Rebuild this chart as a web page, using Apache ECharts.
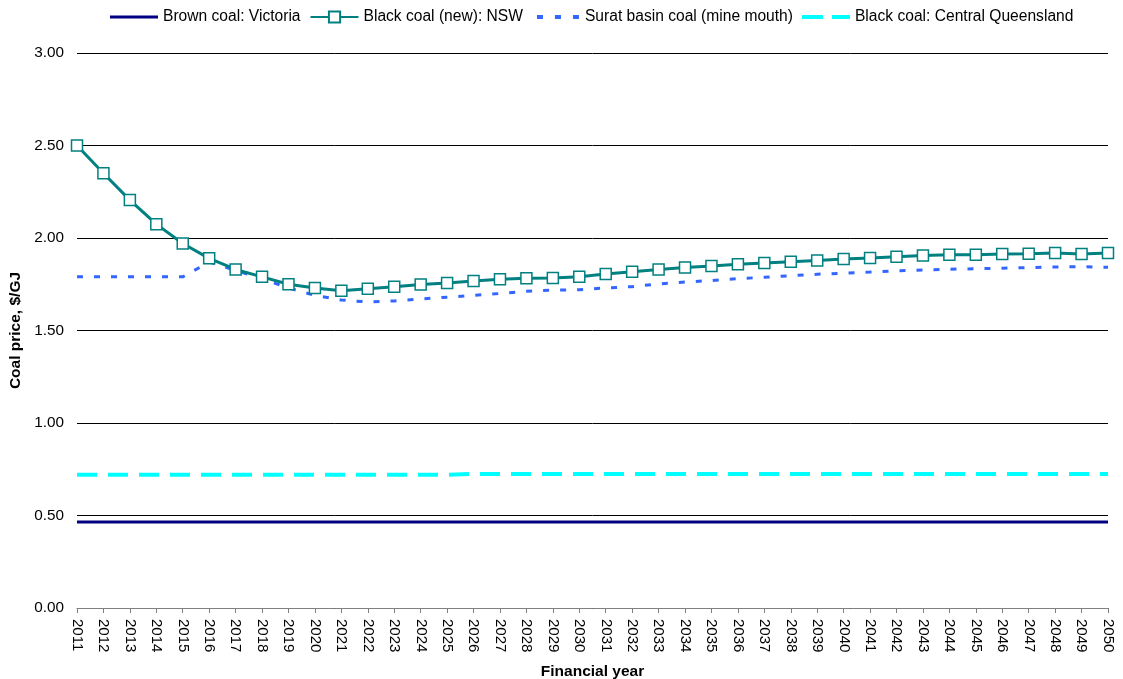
<!DOCTYPE html>
<html>
<head>
<meta charset="utf-8">
<script src="https://cdn.jsdelivr.net/npm/echarts@6/dist/echarts.min.js"></script>
<style>html,body{margin:0;padding:0;background:#fff;}#c{width:1123px;height:679px;}</style>
</head>
<body>
<div id="c"></div>
<script>
var years = [];
for (var y = 2011; y <= 2050; y++) years.push(String(y));

var brownVic = [0.465,0.465,0.465,0.465,0.465,0.465,0.465,0.465,0.465,0.465,
  0.465,0.465,0.465,0.465,0.465,0.465,0.465,0.465,0.465,0.465,
  0.465,0.465,0.465,0.465,0.465,0.465,0.465,0.465,0.465,0.465,
  0.465,0.465,0.465,0.465,0.465,0.465,0.465,0.465,0.465,0.465];

var blackNSW = [2.50,2.35,2.205,2.075,1.97,1.89,1.83,1.79,1.75,1.73,
  1.715,1.726,1.737,1.748,1.757,1.768,1.777,1.782,1.784,1.79,
  1.805,1.818,1.83,1.84,1.849,1.858,1.865,1.872,1.879,1.886,
  1.892,1.899,1.906,1.91,1.91,1.913,1.915,1.919,1.914,1.919];

var suratBasin = [1.79,1.79,1.79,1.79,1.79,1.87,1.825,1.78,1.73,1.69,
  1.665,1.654,1.66,1.67,1.68,1.69,1.70,1.712,1.718,1.72,
  1.73,1.737,1.752,1.762,1.77,1.78,1.788,1.796,1.804,1.81,
  1.816,1.823,1.827,1.831,1.834,1.837,1.84,1.843,1.845,1.842];

var centralQld = [0.72,0.72,0.72,0.72,0.72,0.72,0.72,0.72,0.72,0.72,
  0.72,0.72,0.72,0.72,0.72,0.725,0.725,0.725,0.725,0.725,
  0.725,0.725,0.725,0.725,0.725,0.725,0.725,0.725,0.725,0.725,
  0.725,0.725,0.725,0.725,0.725,0.725,0.725,0.725,0.725,0.725];

var yTicks = ['0.00','0.50','1.00','1.50','2.00','2.50','3.00'];

var seriesNames = ['Brown coal: Victoria','Black coal (new): NSW','Surat basin coal (mine mouth)','Black coal: Central Queensland'];

// legend icon shapes (box 48 x 14, corner specks fix the bounding box)
var box = 'M0,0 L0.01,0 L0,0.01 Z M48,14 L47.99,14 L48,13.99 Z ';
var iconSolid = 'path://' + box + 'M0,5.5 L48,5.5 L48,8.5 L0,8.5 Z';
var iconDots = 'path://' + box + 'M5,5 L11,5 L11,9 L5,9 Z M23,5 L29,5 L29,9 L23,9 Z M41,5 L47,5 L47,9 L41,9 Z';
var iconDash = 'path://' + box + 'M0,5 L21,5 L21,9 L0,9 Z M30,5 L48,5 L48,9 L30,9 Z';

var font = 'Arial, "Liberation Sans", sans-serif';
var chart = echarts.init(document.getElementById('c'), null, {renderer:'canvas'});
chart.setOption({
  animation: false,
  backgroundColor: '#fff',
  textStyle: {fontFamily: font},
  legend: {
    left: 105, top: 4,
    itemWidth: 48, itemHeight: 14, itemGap: 9,
    textStyle: {fontFamily: font, fontSize: 15.6, color: '#000'},
    data: [
      {name: seriesNames[0], icon: iconSolid},
      {name: seriesNames[1]},
      {name: seriesNames[2], icon: iconDots},
      {name: seriesNames[3], icon: iconDash}
    ]
  },
  grid: {left: 77, right: 15, top: 53, bottom: 71, containLabel: false, outerBoundsMode: 'none'},
  xAxis: {
    type: 'category',
    data: years,
    boundaryGap: false,
    name: 'Financial year',
    nameLocation: 'middle',
    nameGap: 56,
    nameTextStyle: {fontFamily: font, fontSize: 15.5, fontWeight: 'bold', color: '#000'},
    axisLine: {lineStyle: {color: '#808080', width: 1}},
    axisTick: {show: true, alignWithLabel: true, length: 5, lineStyle: {color: '#808080'}},
    axisLabel: {rotate: -90, fontFamily: font, fontSize: 15, color: '#000', margin: 11, interval: 0},
    splitLine: {show: false}
  },
  yAxis: {
    type: 'value',
    min: 0, max: 3, interval: 0.5,
    name: 'Coal price, $/GJ',
    nameLocation: 'middle',
    nameGap: 48,
    nameTextStyle: {fontFamily: font, fontSize: 15.5, fontWeight: 'bold', color: '#000'},
    axisLine: {show: false},
    axisTick: {show: false},
    axisLabel: {fontFamily: font, fontSize: 15.3, color: '#000', margin: 13,
      formatter: function (v) { return yTicks[Math.round(v / 0.5)] || v.toFixed(2); }},
    splitLine: {show: true, lineStyle: {color: '#000', width: 1}}
  },
  series: [
    {
      name: seriesNames[0], type: 'line', data: brownVic,
      symbol: 'none', lineStyle: {color: '#000080', width: 3},
      itemStyle: {color: '#000080'}, z: 3
    },
    {
      name: seriesNames[1], type: 'line', data: blackNSW,
      symbol: 'rect', symbolSize: 11, showSymbol: true,
      lineStyle: {color: '#008080', width: 3},
      itemStyle: {color: '#ffffff', borderColor: '#008080', borderWidth: 1.5},
      z: 4
    },
    {
      name: seriesNames[2], type: 'line', data: suratBasin,
      symbol: 'none', lineStyle: {color: '#3366ff', width: 3, type: [6, 11]},
      itemStyle: {color: '#3366ff'}, z: 3
    },
    {
      name: seriesNames[3], type: 'line', data: centralQld,
      symbol: 'none', lineStyle: {color: '#00ffff', width: 4, type: [20, 11]},
      itemStyle: {color: '#00ffff'}, z: 3
    }
  ]
});
</script>
</body>
</html>
